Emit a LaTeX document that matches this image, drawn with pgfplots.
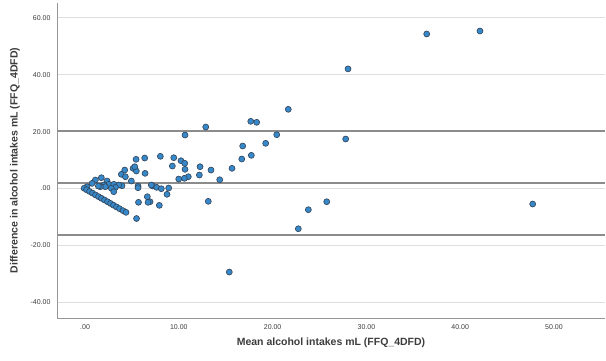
\documentclass[border=0pt]{standalone}
\usepackage{pgfplots}
\pgfplotsset{compat=1.18}
\usepackage{pgfplotstable}
\usepackage{fontspec}
\setmainfont{Liberation Sans}
\definecolor{ptfill}{RGB}{55,136,200}
\definecolor{ptedge}{RGB}{50,66,86}
\definecolor{refline}{RGB}{140,140,140}
\definecolor{gridc}{RGB}{222,222,222}
\definecolor{axc}{RGB}{150,150,150}
\definecolor{txt}{RGB}{60,60,60}

\pgfplotstableread{
x y
36.43 54.31
42.11 55.36
28.04 42.04
21.67 27.84
27.79 17.40
25.77 -4.64
23.81 -7.45
22.74 -14.13
47.73 -5.45
15.38 -29.35
17.67 23.62
18.30 23.27
12.87 21.62
10.66 18.80
20.44 18.91
19.26 15.89
16.81 14.94
16.71 10.37
17.73 11.67
8.03 11.32
9.46 10.83
10.23 9.77
10.63 8.86
9.31 7.91
10.66 6.75
12.26 7.66
13.43 6.50
15.67 7.10
12.19 4.75
11.01 4.15
10.59 3.59
9.99 3.34
14.36 3.09
7.22 0.88
7.64 0.42
8.13 -0.07
8.92 0.18
8.74 -2.04
6.93 -4.64
7.92 -5.91
13.14 -4.50
5.44 10.26
6.36 10.72
4.23 6.50
5.12 7.10
5.47 6.15
5.30 7.66
3.87 4.99
4.30 4.15
6.40 5.34
4.94 2.64
5.65 0.88
3.94 0.98
7.07 1.23
1.74 3.80
1.10 2.99
0.75 1.83
2.35 2.64
2.53 1.48
1.99 1.23
3.06 1.48
3.59 1.23
0.21 0.63
3.23 0.42
2.16 0.63
2.80 0.07
3.06 -1.12
1.63 0.63
1.42 0.88
5.70 -4.85
6.64 -2.88
6.72 -4.85
5.49 -10.54
5.65 0.28
-0.10 0.10
0.16 -0.42
0.48 -1.02
0.80 -1.62
1.12 -2.25
1.44 -2.85
1.76 -3.44
2.08 -4.04
2.40 -4.64
2.72 -5.24
3.04 -5.87
3.36 -6.47
3.68 -7.07
4.05 -7.77
4.37 -8.37
}\pts

\begin{document}
\begin{tikzpicture}
\useasboundingbox (-57pt,-42pt) rectangle (549pt,318pt);
\begin{axis}[
  at={(0,0)}, anchor=south west,
  scale only axis, width=548pt, height=315pt,
  xmin=-2.99, xmax=55.44, ymin=-45.5, ymax=65.2,
  axis x line*=bottom, axis y line*=left,
  axis line style={draw=axc, line width=0.8pt, -},
  xtick={0,10,20,30,40,50},
  xticklabels={.00,10.00,20.00,30.00,40.00,50.00},
  ytick={-40,-20,0,20,40,60},
  yticklabels={-40.00,-20.00,.00,20.00,40.00,60.00},
  tick style={draw=none},
  ymajorgrids, grid style={draw=gridc, line width=0.9pt},
  ticklabel style={font=\fontsize{7}{8.5}\selectfont, text=txt},
  yticklabel style={xshift=-3pt},
  xticklabel style={yshift=-3pt},
  xlabel={Mean alcohol intakes mL (FFQ\_4DFD)},
  ylabel={Difference in alcohol intakes mL (FFQ\_4DFD)},
  label style={font=\bfseries\fontsize{10.5}{12}\selectfont, text=txt},
  xlabel style={at={(axis description cs:0.5,-0.0794)}, anchor=center},
  ylabel style={at={(axis description cs:-0.0768,0.5)}, anchor=center},
  clip=false,
]
\addplot[draw=refline, line width=1.5pt] coordinates {(-2.99,20.3) (55.44,20.3)};
\addplot[draw=refline, line width=1.5pt] coordinates {(-2.99,1.95) (55.44,1.95)};
\addplot[draw=refline, line width=1.5pt] coordinates {(-2.99,-16.4) (55.44,-16.4)};
\addplot[only marks, mark=*, mark size=3pt,
  mark options={fill=ptfill, draw=ptedge, line width=0.6pt}] table[x=x,y=y] {\pts};
\end{axis}
\end{tikzpicture}
\end{document}
